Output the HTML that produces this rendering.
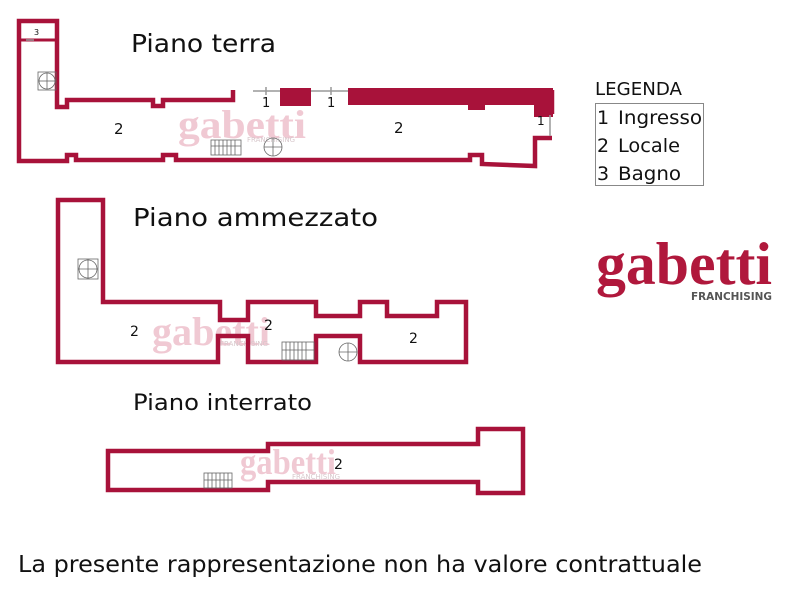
<!DOCTYPE html>
<html><head><meta charset="utf-8"><style>
html,body{margin:0;padding:0;background:#fff;width:800px;height:600px;overflow:hidden}
svg{display:block}
</style></head><body>
<svg width="800" height="600" viewBox="0 0 800 600" xmlns="http://www.w3.org/2000/svg" font-family="'DejaVu Sans', 'Liberation Sans', sans-serif">
<!-- watermarks -->
<g fill="#f0c9d3" font-family="'Liberation Serif', serif" font-weight="bold">
<text x="178" y="138" font-size="40" textLength="128" lengthAdjust="spacingAndGlyphs">gabetti</text>
<text x="152" y="345" font-size="40" textLength="118" lengthAdjust="spacingAndGlyphs">gabetti</text>
<text x="240" y="474" font-size="36" textLength="96" lengthAdjust="spacingAndGlyphs">gabetti</text>
</g>
<g fill="#d8c8cc" font-size="7">
<text x="247" y="142">FRANCHISING</text>
<text x="220" y="346">FRANCHISING</text>
<text x="292" y="479">FRANCHISING</text>
</g>

<g fill="none" stroke="#a8123a" stroke-width="4.5" stroke-linejoin="miter">
<polyline points="233,90 233,100 163,100 163,106 153,106 153,100 67,100 67,107 57,107 57,21 19,21 19,161 67,161 67,155 76,155 76,160 163,160 163,155 176,155 176,160 470,160 470,155 482,155 482,164 535,166 535,138 552,138"/>
<line x1="19" y1="40" x2="57" y2="40" stroke-width="3"/>
<line x1="552" y1="90" x2="552" y2="114"/>
</g>
<g fill="#a8123a">
<rect x="280" y="88" width="31" height="18"/>
<rect x="348" y="88" width="205" height="17"/>
<rect x="468" y="100" width="17" height="10"/>
<rect x="534" y="100" width="19" height="17"/>
</g>
<g stroke="#999" stroke-width="1.5">
<line x1="253" y1="91" x2="280" y2="91"/><line x1="266" y1="87" x2="266" y2="95"/>
<line x1="311" y1="91" x2="348" y2="91"/><line x1="331" y1="87" x2="331" y2="95"/>
<line x1="550" y1="115" x2="550" y2="136"/>
<line x1="26" y1="40" x2="34" y2="40"/>
</g>
<polygon fill="none" stroke="#a8123a" stroke-width="4.5" points="58,200 103,200 103,302 220,302 220,320 248,320 248,302 316,302 316,316 360,316 360,302 387,302 387,316 437,316 437,302 466,302 466,362 360,362 360,336 316,336 316,362 248,362 248,336 218,336 218,362 58,362"/>
<polygon fill="none" stroke="#a8123a" stroke-width="4.5" points="108,451 268,451 268,444 478,444 478,429 523,429 523,493 478,493 478,482 268,482 268,490 108,490"/>

<g fill="none" stroke="#666" stroke-width="0.8">
<rect x="38" y="72" width="18" height="18"/><circle cx="47" cy="81" r="8"/><line x1="39" y1="81" x2="55" y2="81"/><line x1="47" y1="73" x2="47" y2="89"/>
<circle cx="273" cy="147" r="9"/><line x1="264" y1="147" x2="282" y2="147"/><line x1="273" y1="138" x2="273" y2="156"/>
<rect x="211" y="140" width="30" height="15"/><path d="M215 140v15M219 140v15M223 140v15M227 140v15M231 140v15M235 140v15M211 146h30"/>
<rect x="78" y="259" width="20" height="20"/><circle cx="88" cy="269" r="9"/><line x1="78" y1="269" x2="98" y2="269"/><line x1="88" y1="259" x2="88" y2="279"/>
<circle cx="348" cy="352" r="9"/><line x1="339" y1="352" x2="357" y2="352"/><line x1="348" y1="343" x2="348" y2="361"/>
<rect x="282" y="342" width="32" height="18"/><path d="M286 342v18M290 342v18M294 342v18M298 342v18M302 342v18M306 342v18M282 350h32"/>
<rect x="204" y="473" width="28" height="15"/><path d="M208 473v15M212 473v15M216 473v15M220 473v15M224 473v15M228 473v15M204 480h28"/>
</g>

<g fill="#111">
<text x="131" y="52" font-size="25" textLength="145" lengthAdjust="spacingAndGlyphs">Piano terra</text>
<text x="133" y="226" font-size="25" textLength="245" lengthAdjust="spacingAndGlyphs">Piano ammezzato</text>
<text x="133" y="410" font-size="22" textLength="179" lengthAdjust="spacingAndGlyphs">Piano interrato</text>
<text x="34" y="35" font-size="8">3</text>
<text x="114" y="134" font-size="15">2</text>
<text x="394" y="133" font-size="15">2</text>
<text x="262" y="107" font-size="13">1</text>
<text x="327" y="107" font-size="13">1</text>
<text x="537" y="125" font-size="12">1</text>
<text x="130" y="336" font-size="14">2</text>
<text x="264" y="330" font-size="14">2</text>
<text x="409" y="343" font-size="14">2</text>
<text x="334" y="469" font-size="14">2</text>
<text x="595" y="95" font-size="18" textLength="87" lengthAdjust="spacingAndGlyphs">LEGENDA</text>
<text x="597" y="124" font-size="19">1</text><text x="618" y="124" font-size="19" textLength="84" lengthAdjust="spacingAndGlyphs">Ingresso</text>
<text x="597" y="152" font-size="19">2</text><text x="618" y="152" font-size="19" textLength="62" lengthAdjust="spacingAndGlyphs">Locale</text>
<text x="597" y="180" font-size="19">3</text><text x="618" y="180" font-size="19" textLength="63" lengthAdjust="spacingAndGlyphs">Bagno</text>
<text x="18" y="572" font-size="23" textLength="684" lengthAdjust="spacingAndGlyphs">La presente rappresentazione non ha valore contrattuale</text>
</g>
<rect x="595.5" y="103.5" width="108" height="82" fill="none" stroke="#888" stroke-width="1"/>
<text x="596" y="284" font-family="'Liberation Serif', serif" font-weight="bold" font-size="60" fill="#b0183c" textLength="176" lengthAdjust="spacingAndGlyphs">gabetti</text>
<text x="691" y="300" font-size="11" font-weight="bold" fill="#555" textLength="81" lengthAdjust="spacingAndGlyphs">FRANCHISING</text>
</svg>
</body></html>
